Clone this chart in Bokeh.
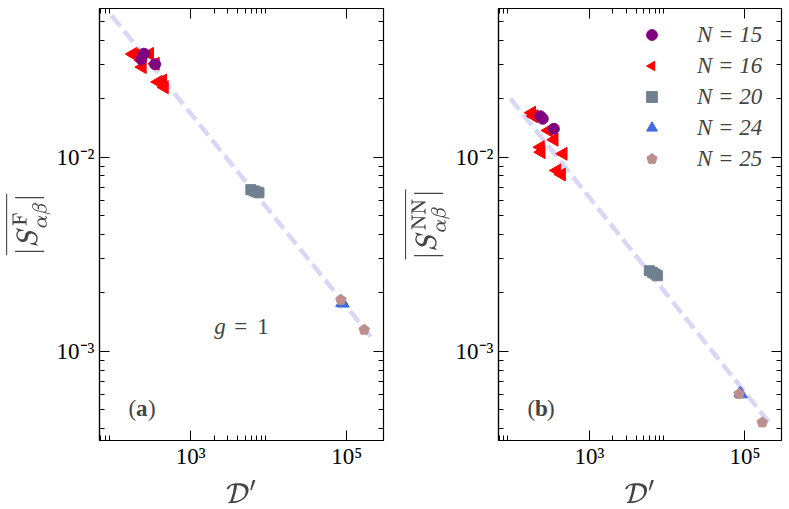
import numpy as np
from bokeh.plotting import figure
from bokeh.layouts import row
from bokeh.models import (FixedTicker, LogAxis, Legend, LegendItem, Label,
                          CustomJSTickFormatter)
from bokeh.embed import file_html
from bokeh.resources import INLINE

# ---- data ----
n15_D = [234, 252, 350]
n15_F = [0.0319, 0.0341, 0.0301]
n15_NN = [0.01625, 0.01577, 0.0140]

n16_D = [182, 193, 236, 241, 299, 354, 384, 440, 462]
n16_F = [0.0340, 0.0335, 0.0315, 0.0291, 0.0340, 0.0303, 0.0244, 0.0248, 0.0229]
n16_NN = [0.01694, 0.01625, 0.01126, 0.01061, 0.01373, 0.01229, 0.00854, 0.00814, 0.01041]

n20_D = [5900, 6500, 7000, 7500]
n20_F = [0.00680, 0.00670, 0.00662, 0.00655]
n20_NN = [0.00260, 0.00255, 0.00250, 0.00245]

n24_D = [86000, 90000]
n24_F = [0.00177, 0.00176]
n24_NN = [0.000607, 0.000600]

n25_D = [84000, 167000]
n25_F = [0.00184, 0.00129]
n25_NN = [0.000603, 0.000430]

fit_D = [97, 2.03e5]
fit_F = [0.0537, 0.00119]
fit_NN = [0.0200, 0.000431]

x_major = [1e3, 1e5]
x_major_labels = ["10\u00b3", "10\u2075"]
x_minor = [70, 80, 90, 2000, 3000, 4000, 5000, 6000, 7000, 8000, 9000]
y_major = [1e-3, 1e-2]
y_major_labels = ["10\u207b\u00b3", "10\u207b\u00b2"]
y_minor = [k * 1e-4 for k in range(4, 10)] + [k * 1e-3 for k in range(2, 10)] + [k * 1e-2 for k in range(2, 6)]

legend_labels = ["N = 15", "N = 16", "N = 20", "N = 24", "N = 25"]

XR = (68, 2.95e5)
YR = (3.47e-4, 0.0583)

FONT = "Liberation Serif"
FS = "23px"


def style_axis(ax, ticks, labels, minor, show_labels=True):
    ax.ticker = FixedTicker(ticks=ticks, minor_ticks=minor)
    ax.major_tick_in = 10
    ax.major_tick_out = 0
    ax.minor_tick_in = 5
    ax.minor_tick_out = 0
    ax.major_tick_line_color = "black"
    ax.minor_tick_line_color = "black"
    ax.axis_line_color = "black"
    ax.axis_line_width = 1.2
    if show_labels:
        ax.major_label_overrides = {t: l for t, l in zip(ticks, labels)}
        ax.major_label_text_font = FONT
        ax.major_label_text_font_size = FS
        ax.major_label_text_color = "black"
    else:
        ax.formatter = CustomJSTickFormatter(code="return ''")
        ax.major_label_text_font_size = "0px"
        ax.major_label_standoff = 0
        ax.axis_label = None
        ax.axis_line_color = None


def make_panel(ycol, fit_y, ylabel, width, bl, br, tag, show_legend, g_label):
    p = figure(width=width, height=508, x_axis_type="log", y_axis_type="log",
               x_range=XR, y_range=YR, output_backend="svg", toolbar_location=None,
               min_border_left=bl, min_border_right=br, min_border_top=8, min_border_bottom=68)
    p.xgrid.visible = False
    p.ygrid.visible = False
    p.outline_line_color = "black"
    p.outline_line_width = 1.2
    bottom = p.below[0]
    left = p.left[0]
    style_axis(bottom, x_major, x_major_labels, x_minor)
    style_axis(left, y_major, y_major_labels, y_minor)
    top = LogAxis(fixed_location=YR[1])
    right = LogAxis(fixed_location=XR[1])
    style_axis(top, x_major, x_major_labels, x_minor, show_labels=False)
    style_axis(right, y_major, y_major_labels, y_minor, show_labels=False)
    p.add_layout(top, "above")
    p.add_layout(right, "right")

    bottom.axis_label = r"$$\mathcal{D}'$$"
    left.axis_label = ylabel
    bottom.major_label_standoff = 3
    bottom.axis_label_standoff = 8
    left.major_label_standoff = 5
    left.axis_label_standoff = 3
    for ax in (bottom, left):
        ax.axis_label_text_font_size = FS
        ax.axis_label_text_font_style = "normal"

    p.line(fit_D, fit_y, line_color="#d8d8f6", line_width=4.5, line_dash="14 6")

    def pick(a, b):
        return a if ycol == "F" else b

    r16 = p.ngon(n16_D, pick(n16_F, n16_NN), radius=7.5, radius_units="screen", n=3,
                 angle=np.pi / 2, fill_color="#ff0000", line_color="#ff0000")
    r15 = p.scatter(n15_D, pick(n15_F, n15_NN), marker="circle", size=11,
                    fill_color="#800080", line_color="#800080")
    r20 = p.scatter(n20_D, pick(n20_F, n20_NN), marker="square", size=10,
                    fill_color="#708090", line_color="#708090")
    r24 = p.scatter(n24_D, pick(n24_F, n24_NN), marker="triangle", size=12,
                    fill_color="#4169e1", line_color="#4169e1")
    r25 = p.ngon(n25_D, pick(n25_F, n25_NN), radius=5.5, radius_units="screen", n=5,
                 fill_color="#bc8f8f", line_color="#bc8f8f")
    rends = [r15, r16, r20, r24, r25]

    if show_legend:
        items = [LegendItem(label=l, renderers=[r]) for l, r in zip(legend_labels, rends)]
        leg = Legend(items=items, location=(140, 268))
        leg.border_line_color = None
        leg.background_fill_alpha = 0
        leg.label_text_font = FONT
        leg.label_text_font_size = FS
        leg.label_text_font_style = "italic"
        leg.glyph_width = 27
        leg.glyph_height = 27
        leg.label_height = 27
        leg.spacing = 4
        leg.label_standoff = 32
        leg.margin = 0
        leg.padding = 10
        p.add_layout(leg, "center")

    # panel tag "(a)" / "(b)"
    p.add_layout(Label(x=160, y=5.1e-4, text="(", text_font=FONT, text_font_size=FS,
                       text_baseline="middle"))
    p.add_layout(Label(x=160, y=5.1e-4, x_offset=7.5, text=tag, text_font=FONT,
                       text_font_size=FS, text_font_style="bold", text_baseline="middle"))
    p.add_layout(Label(x=160, y=5.1e-4, x_offset=19.5, text=")", text_font=FONT,
                       text_font_size=FS, text_baseline="middle"))
    if g_label:
        p.add_layout(Label(x=2010, y=1.34e-3, text="g", text_font=FONT, text_font_size=FS,
                           text_font_style="italic", text_baseline="middle"))
        p.add_layout(Label(x=2010, y=1.34e-3, x_offset=20, text="=", text_font=FONT,
                           text_font_size=FS, text_baseline="middle"))
        p.add_layout(Label(x=2010, y=1.34e-3, x_offset=43, text="1", text_font=FONT,
                           text_font_size=FS, text_baseline="middle"))
    return p


p1 = make_panel("F", fit_F, r"$$\overline{|S^{\mathrm{F}}_{\alpha\beta}|}$$", 399, 98, 16,
                "a", False, True)
p2 = make_panel("NN", fit_NN, r"$$\overline{|S^{\mathrm{NN}}_{\alpha\beta}|}$$", 389, 98, 7,
                "b", True, False)

layout = row(p1, p2)
open("out.html", "w").write(file_html(layout, INLINE))
